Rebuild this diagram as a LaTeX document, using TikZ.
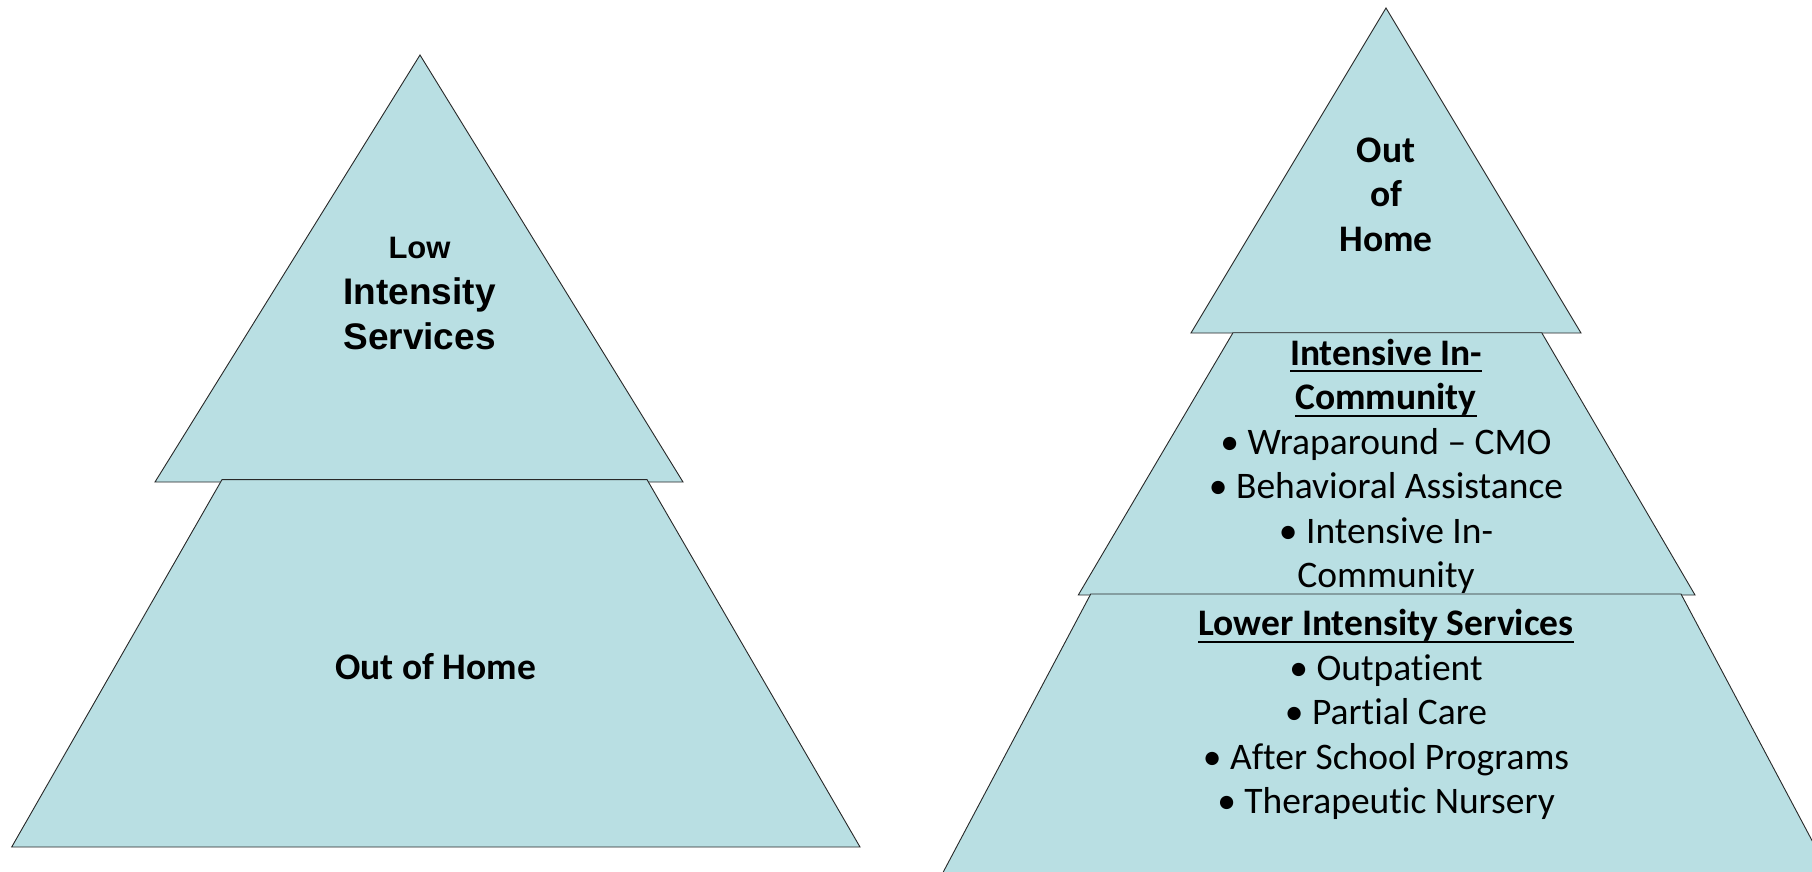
\documentclass[tikz,border=0pt]{standalone}
\usepackage{fontspec}
\setmainfont{Carlito}[RawFeature={-liga}]
\newfontfamily\arialfam{Liberation Sans}
\definecolor{pyr}{RGB}{185,223,227}
\definecolor{edge}{RGB}{40,40,40}
\newcommand{\myul}[1]{\setbox0\hbox{#1}\rlap{\rule[-7pt]{\wd0}{2pt}}\box0}
\tikzset{
  layer/.style={fill=pyr, draw=edge, line width=0.9pt, line join=miter},
  lbl/.style={anchor=base, inner sep=0pt, font=\fontsize{37.5}{45}\selectfont},
  lblb/.style={lbl, font=\fontsize{37.5}{45}\selectfont\bfseries},
  arb/.style={anchor=base, inner sep=0pt, font=\arialfam\bfseries\fontsize{37}{44}\selectfont},
  arbs/.style={anchor=base, inner sep=0pt, font=\arialfam\bfseries\fontsize{31}{38}\selectfont}
}
\begin{document}
\begin{tikzpicture}[x=1pt,y=-1pt]
\useasboundingbox (0,0) rectangle (1812,871);
\fill[white] (0,0) rectangle (1812,871);
\begin{scope}
\clip (0,0) rectangle (1812,871);
% left pyramid
\draw[layer] (420,55) -- (683,482) -- (155,482) -- cycle;
\draw[layer] (222,479.6) -- (647,479.6) -- (860,847) -- (11.7,847) -- cycle;
% right pyramid
\draw[layer] (1386,8) -- (1581,333) -- (1191,333) -- cycle;
\draw[layer] (1233,332.7) -- (1541.7,332.7) -- (1695,595) -- (1078.3,595) -- cycle;
\draw[layer] (1090.7,594) -- (1681,594) -- (1833,880) -- (939,880) -- cycle;
\end{scope}
% left texts
\node[arbs] (lowA) at (419.5,258.5) {Low};
\node[arb] (lowB) at (419.5,304) {Intensity};
\node[arb] (lowC) at (419.5,349.5) {Services};
\node[lblb] (ooh) at (435.7,679) {Out of Home};
% right top
\node[lblb] (rtA) at (1386,162) {Out};
\node[lblb] (rtB) at (1386,206) {of};
\node[lblb] (rtC) at (1386,251) {Home};
% right middle
\node[lblb] (miA) at (1386,365) {\myul{Intensive In-}};
\node[lblb] (miB) at (1386,409.5) {\myul{Community}};
\node[lbl] (miC) at (1386,454) {• Wraparound – CMO};
\node[lbl] (miD) at (1386,498.5) {• Behavioral Assistance};
\node[lbl] (miE) at (1386,543) {• Intensive In-};
\node[lbl] (miF) at (1386,587.5) {Community};
% right bottom
\node[lblb] (boA) at (1386,635.5) {\myul{Lower Intensity Services}};
\node[lbl] (boB) at (1386,680) {• Outpatient};
\node[lbl] (boC) at (1386,724.5) {• Partial Care};
\node[lbl] (boD) at (1386,769) {• After School Programs};
\node[lbl] (boE) at (1386,813.5) {• Therapeutic Nursery};
\end{tikzpicture}
\end{document}
